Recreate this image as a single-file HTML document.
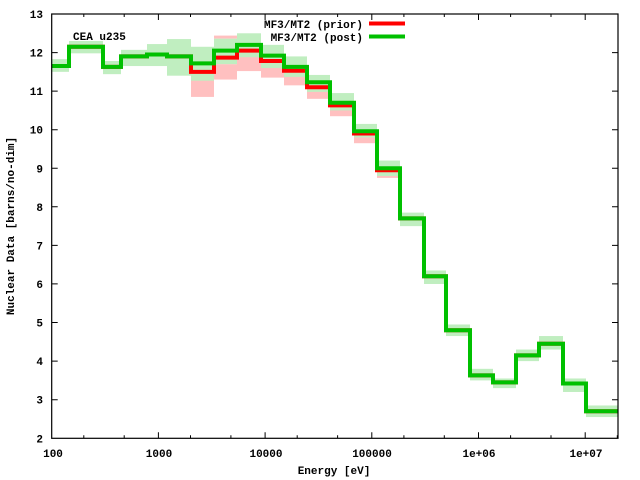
<!DOCTYPE html>
<html><head><style>
html,body{margin:0;padding:0;background:#fff;}
svg{display:block;}
text{font-family:"Liberation Mono",monospace;font-weight:bold;font-size:11px;fill:#000;}
</style></head><body>
<svg width="640" height="480" viewBox="0 0 640 480" xmlns="http://www.w3.org/2000/svg">
<g transform="translate(0,515.4) scale(1,-38.57)">
<g fill="#ffc0c0">
<rect x="191" y="10.85" width="23" height="0.65"/>
<rect x="214" y="11.3" width="23" height="0.4"/>
<rect x="214" y="12.36" width="23" height="0.08"/>
<rect x="237" y="11.52" width="24" height="0.48"/>
<rect x="261" y="11.35" width="23" height="0.45"/>
<rect x="284" y="11.15" width="23" height="0.45"/>
<rect x="307" y="10.8" width="23" height="0.3"/>
<rect x="330" y="10.35" width="24" height="0.3"/>
<rect x="354" y="9.65" width="23" height="0.25"/>
<rect x="377" y="8.75" width="23" height="0.2"/>
</g>
<g fill="#c0eec0">
<rect x="51.7" y="11.5" width="17.3" height="0.33"/>
<rect x="69" y="11.98" width="34" height="0.32"/>
<rect x="103" y="11.44" width="18" height="0.34"/>
<rect x="121" y="11.65" width="26" height="0.42"/>
<rect x="147" y="11.65" width="20" height="0.57"/>
<rect x="167" y="11.4" width="24" height="0.95"/>
<rect x="191" y="11.27" width="23" height="0.88"/>
<rect x="214" y="11.7" width="23" height="0.66"/>
<rect x="237" y="11.88" width="24" height="0.62"/>
<rect x="261" y="11.6" width="23" height="0.6"/>
<rect x="284" y="11.37" width="23" height="0.53"/>
<rect x="307" y="10.98" width="23" height="0.44"/>
<rect x="330" y="10.5" width="24" height="0.45"/>
<rect x="354" y="9.8" width="23" height="0.35"/>
<rect x="377" y="8.8" width="23" height="0.4"/>
<rect x="400" y="7.5" width="24" height="0.35"/>
<rect x="424" y="6.0" width="22" height="0.35"/>
<rect x="446" y="4.65" width="24" height="0.3"/>
<rect x="470" y="3.5" width="23" height="0.3"/>
<rect x="493" y="3.3" width="23" height="0.25"/>
<rect x="516" y="4.0" width="23" height="0.3"/>
<rect x="539" y="4.3" width="24" height="0.35"/>
<rect x="563" y="3.2" width="23" height="0.35"/>
<rect x="586" y="2.55" width="32" height="0.3"/>
</g>
<polyline fill="none" stroke="#ff0000" stroke-width="4" vector-effect="non-scaling-stroke" points="51.7,11.65 69,11.65 69,12.15 103,12.15 103,11.63 121,11.63 121,11.9 147,11.9 147,11.95 167,11.95 167,11.9 191,11.9 191,11.5 214,11.5 214,11.87 237,11.87 237,12.05 261,12.05 261,11.78 284,11.78 284,11.53 307,11.53 307,11.1 330,11.1 330,10.63 354,10.63 354,9.9 377,9.9 377,8.95 400,8.95 400,7.7 424,7.7 424,6.2 446,6.2 446,4.8 470,4.8 470,3.63 493,3.63 493,3.45 516,3.45 516,4.15 539,4.15 539,4.45 563,4.45 563,3.42 586,3.42 586,2.7 618,2.7"/>
<polyline fill="none" stroke="#00c000" stroke-width="4" vector-effect="non-scaling-stroke" points="51.7,11.65 69,11.65 69,12.15 103,12.15 103,11.63 121,11.63 121,11.9 147,11.9 147,11.95 167,11.95 167,11.9 191,11.9 191,11.72 214,11.72 214,12.05 237,12.05 237,12.2 261,12.2 261,11.92 284,11.92 284,11.63 307,11.63 307,11.23 330,11.23 330,10.7 354,10.7 354,9.96 377,9.96 377,9.0 400,9.0 400,7.7 424,7.7 424,6.2 446,6.2 446,4.8 470,4.8 470,3.63 493,3.63 493,3.45 516,3.45 516,4.15 539,4.15 539,4.45 563,4.45 563,3.42 586,3.42 586,2.7 618,2.7"/>
</g>
<rect x="51.7" y="14" width="566.3" height="424.3" fill="none" stroke="#000" stroke-width="1.2"/>
<g stroke="#000" stroke-width="1">
<path d="M51.7 14h6M51.7 52.6h6M51.7 91.1h6M51.7 129.7h6M51.7 168.3h6M51.7 206.8h6M51.7 245.4h6M51.7 283.9h6M51.7 322.5h6M51.7 361.1h6M51.7 399.7h6
M618 52.6h-6M618 91.1h-6M618 129.7h-6M618 168.3h-6M618 206.8h-6M618 245.4h-6M618 283.9h-6M618 322.5h-6M618 361.1h-6M618 399.7h-6"/>
<path d="M158.4 438.3v-6M265.1 438.3v-6M371.8 438.3v-6M478.5 438.3v-6M585.2 438.3v-6
M158.4 14v6M265.1 14v6M371.8 14v6M478.5 14v6M585.2 14v6
M83.8 438.3v-3M124.2 438.3v-3M190.5 438.3v-3M230.9 438.3v-3M297.2 438.3v-3M337.6 438.3v-3M403.9 438.3v-3M444.3 438.3v-3M510.6 438.3v-3M551 438.3v-3M617.3 438.3v-3
M83.8 14v3M124.2 14v3M190.5 14v3M230.9 14v3M297.2 14v3M337.6 14v3M403.9 14v3M444.3 14v3M510.6 14v3M551 14v3"/>
</g>
<g text-anchor="end">
<text x="43" y="18">13</text><text x="43" y="56.6">12</text><text x="43" y="95.1">11</text><text x="43" y="133.7">10</text>
<text x="43" y="172.3">9</text><text x="43" y="210.8">8</text><text x="43" y="249.4">7</text><text x="43" y="287.9">6</text>
<text x="43" y="326.5">5</text><text x="43" y="365.1">4</text><text x="43" y="403.7">3</text><text x="43" y="442.3">2</text>
</g>
<g text-anchor="middle">
<text x="53" y="457">100</text><text x="159" y="457">1000</text><text x="266" y="457">10000</text>
<text x="372" y="457">100000</text><text x="479" y="457">1e+06</text><text x="586" y="457">1e+07</text>
<text x="334" y="474">Energy [eV]</text>
<text transform="translate(14,226) rotate(-90)">Nuclear Data [barns/no-dim]</text>
</g>
<text x="73" y="40">CEA u235</text>
<g text-anchor="end">
<text x="363" y="28">MF3/MT2 (prior)</text>
<text x="363" y="41">MF3/MT2 (post)</text>
</g>
<line x1="369" y1="23.5" x2="405" y2="23.5" stroke="#ff0000" stroke-width="4"/>
<line x1="369" y1="36.5" x2="405" y2="36.5" stroke="#00c000" stroke-width="4"/>
</svg>
</body></html>
